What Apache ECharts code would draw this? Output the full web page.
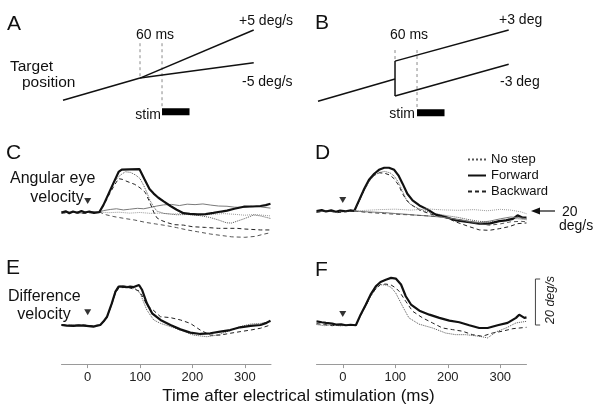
<!DOCTYPE html>
<html><head><meta charset="utf-8">
<script src="https://cdn.jsdelivr.net/npm/echarts@6/dist/echarts.min.js"></script>
<style>html,body{margin:0;padding:0;background:#fff}#c{width:601px;height:419px}</style>
</head><body><div id="c"></div>
<script>
// ---------- Schematic panels (time in ms, position in deg) ----------
const aPre   = [[-270,-2.1],[-60,0]];
const aPlus  = [[-60,0],[250,4.55]];
const aMinus = [[-60,0],[250,1.45]];
const bPre   = [[-270,-2.1],[-60,0]];
const bStep  = [[-60,1.7],[-60,-1.6]];
const bPlus  = [[-60,1.7],[250,4.65]];
const bMinus = [[-60,-1.6],[250,1.4]];
const aGuide1 = [[-60,3.3],[-60,0]];
const aGuide2 = [[0,3.3],[0,-2.9]];
const bGuide1 = [[-60,2.75],[-60,1.7]];
const bGuide2 = [[0,2.75],[0,-2.9]];
const stimBar = [[0,-3.2],[75,-3.2]];

// ---------- Panel C: angular eye velocity (deg/s), velocity step ----------
const cForwardStim = [[-50,19.8],[-42,20.3],[-35,19.5],[-28,20.2],[-20,19.7],[-12,20.4],[-5,19.8],[3,20.2],[12,19.6],[22,19.9],[30,23],[40,28],[50,33],[59,37.4],[65,38.4],[80,38.5],[99,38.6],[108,34.5],[118,30],[126,28],[135,26.2],[145,24.6],[158,22.6],[170,21],[183,19.5],[195,19.2],[210,19.0],[225,19.1],[240,19.6],[255,20.2],[266,20.6],[280,21.4],[298,22.3],[315,22.4],[330,22.6],[340,23],[349,23.6]];
const cForwardNo = [[-50,19.6],[-30,20.1],[-10,19.5],[10,20.2],[22,20],[30,20.6],[43,21.1],[55,21.4],[68,20.9],[80,21.2],[95,21.6],[107,21.4],[120,22],[132,22.6],[145,23.1],[160,23.3],[175,22.8],[190,23.4],[205,23.2],[220,23.5],[235,23.0],[250,22.6],[266,22.5],[280,22.1],[298,22.0],[312,22.5],[330,22.2],[349,21.7]];
const cNoStepStim = [[-50,20.2],[-30,19.7],[-10,20.3],[10,19.6],[22,20],[32,24],[42,29],[52,33.5],[62,36],[72,37.5],[82,37.2],[92,36],[100,34.5],[107,31.5],[113,28.5],[119,25],[126,22.3],[132,20.4],[145,19.4],[158,19.1],[170,18.8],[189,18.9],[202,18.7],[215,18.4],[234,17.6],[250,16.5],[265,15.3],[275,15.2],[285,16],[298,17],[317,18.7],[330,18.3],[349,17.2]];
const cNoStepNo = [[-50,19.7],[-30,20.2],[-10,19.8],[10,20.1],[22,20],[40,19.7],[60,19.9],[80,19.5],[100,19.8],[120,19.4],[140,19.5],[160,19.1],[180,19.3],[200,19.0],[220,18.7],[240,19.0],[260,19.3],[280,19.0],[300,18.6],[320,18.9],[349,18.3]];
const cBackStim = [[-50,19.5],[-30,19.8],[-10,19.4],[10,19.7],[22,20],[32,23.5],[42,28],[52,32],[59,34.5],[66,34.2],[75,33.3],[90,32],[100,30.5],[110,28.5],[118,24.5],[126,20],[132,17.5],[139,16.5],[150,15.5],[165,14.5],[183,14.3],[200,13.6],[225,13.3],[250,12.9],[266,12.9],[285,12.9],[300,12.6],[330,12.2],[349,12.2]];
const cBackNo = [[22,20],[35,18.8],[50,18],[70,17.2],[90,16.5],[110,15.5],[130,14.8],[150,14.1],[170,13.2],[190,12.2],[210,11.4],[235,10.4],[255,9.8],[275,9.2],[300,9.0],[320,9.4],[335,10.3],[349,11]];

// ---------- Panel D: angular eye velocity (deg/s), position step ----------
const dForwardStim = [[-50,20],[-40,20.4],[-32,19.8],[-22,20.3],[-13,19.7],[-5,20.2],[6,19.9],[15,20.3],[22,20],[31,24.6],[41,29.7],[50,33.6],[60,36.2],[69,37.9],[79,38.8],[88,38.8],[98,37.9],[106,35.5],[114,31.9],[123,27.5],[133,24.6],[146,22.4],[162,20.6],[177,18.4],[196,17.4],[216,15.9],[241,15.2],[260,14.5],[279,14.5],[298,15.6],[311,15.9],[324,16.6],[333,18.1],[343,17.1],[350,17.1]];
const dNoStepStim = [[-50,19.6],[-30,20],[-10,19.5],[10,19.8],[22,20],[31,24],[41,29],[50,32.8],[60,35.4],[70,36.8],[80,37.2],[90,36.6],[98,35.2],[106,32.5],[114,28.5],[121,25],[130,22.6],[145,21],[160,19.8],[177,18.8],[200,17.9],[220,17.2],[241,16.2],[260,15.5],[280,15.2],[300,15.6],[320,16.8],[335,16.6],[350,16.2]];
const dBackStim = [[-50,19.4],[-30,20.1],[-10,19.3],[10,19.8],[22,20],[31,24.2],[41,29.2],[50,33],[60,35.6],[70,36.6],[80,36.4],[90,35.6],[98,34],[107,31],[114,27.5],[122,24.5],[133,22.4],[146,20.4],[162,19.1],[180,17.8],[200,16.8],[216,15.2],[241,13.2],[260,11.8],[279,11.6],[298,12.3],[317,13.2],[333,14.5],[350,14.8]];
const dForwardNo = [[22,20],[40,19.7],[60,19.5],[80,19.3],[100,18.9],[120,18.6],[140,18.2],[160,17.9],[180,17.5],[200,17.0],[225,16.2],[245,15.3],[260,15.0],[280,15.6],[300,16.6],[320,17.4],[335,17.1],[350,16.6]];
const dNoStepNo = [[22,20],[45,20.3],[70,20.6],[100,20.8],[130,20.4],[160,20.9],[190,20.5],[220,20.3],[250,20.6],[275,20.1],[300,20.7],[320,20.4],[340,19.6],[350,18.8]];
const dBackNo = [[22,20],[45,19.4],[70,19.0],[100,18.6],[130,18.3],[160,17.9],[190,17.5],[215,16.5],[240,15.3],[260,14.5],[280,13.8],[300,14.4],[320,15.3],[340,15.5],[350,15.3]];

// ---------- Panels E, F: difference velocity (deg/s) ----------
const eForward = [[-50,0],[-40,-0.3],[-27,-0.4],[-15,-0.2],[-2,-0.4],[11,-0.7],[18,-0.3],[24,0],[30,1.5],[37,3.6],[46,9.4],[53,14.5],[59,16.7],[68,16.7],[75,16.4],[81,16.7],[88,16.5],[91,16.9],[98,17.4],[104,15.2],[113,9.4],[123,5.1],[139,2.2],[158,0],[177,-1.9],[196,-3.3],[215,-3.9],[234,-3.6],[253,-2.9],[272,-2.2],[291,-1.0],[311,-0.4],[330,0],[340,0.8],[349,1.9]];
const eBackward = [[-50,0.2],[-30,-0.2],[-10,0.1],[10,-0.4],[24,0],[30,1.2],[37,3.4],[46,9],[53,14],[60,16.2],[70,16.3],[80,16.1],[90,15.5],[98,14.8],[106,12],[113,8.5],[125,6.5],[139,3.6],[158,3.2],[177,2.2],[196,0.7],[215,-2.2],[234,-4.4],[253,-4.4],[272,-3.6],[291,-2.9],[311,-2.2],[330,-1.4],[349,0]];
const eNoStep = [[-50,-0.2],[-30,0.2],[-10,-0.3],[10,-0.6],[24,-0.2],[30,1.3],[37,3.2],[46,9],[53,14.8],[60,17],[70,17.2],[80,16.6],[90,16],[100,13.8],[113,6.5],[126,2.2],[139,0.7],[158,-0.7],[177,-2.2],[202,-4.4],[228,-5.1],[247,-4.4],[266,-2.9],[291,-0.7],[311,0.4],[330,0.7],[349,1.4]];
const fForward = [[-50,1.6],[-40,1.2],[-32,0.9],[-20,0.6],[-13,0.2],[-3,0.3],[6,-0.1],[15,0.1],[25,-0.1],[34,4.5],[44,8.9],[53,13.2],[63,16.8],[72,18.7],[82,19.7],[92,20.5],[101,20.2],[111,17.6],[120,12.5],[130,8.9],[146,6.2],[165,4.5],[184,3.1],[203,1.9],[222,1.2],[241,-0.1],[260,-1.3],[276,-1.3],[295,-0.1],[314,0.9],[330,3.1],[336,4.5],[346,3.1],[350,3.3]];
const fBackward = [[-50,0.6],[-35,0.2],[-20,-0.3],[-5,0.2],[10,-0.2],[25,0],[34,4.2],[44,8.5],[53,12.6],[63,15.8],[72,17.6],[82,17.8],[92,17.4],[101,16.1],[108,14.5],[120,10.3],[133,6],[152,3.1],[171,0.9],[190,-1.3],[209,-2],[228,-2.7],[247,-4.2],[266,-4.9],[285,-3.5],[304,-2.7],[324,-1.6],[350,-1.0]];
const fNoStep = [[-50,0.2],[-35,-0.3],[-20,0.1],[-5,-0.4],[10,-0.1],[25,-0.2],[34,4],[44,8.2],[53,12.4],[63,15.8],[72,17.5],[82,17.4],[92,16.4],[101,13.9],[114,8.1],[126,3.1],[145,0.4],[171,-1.3],[196,-3.5],[215,-4.2],[234,-4.2],[260,-4.9],[276,-5.6],[292,-3.0],[311,-1.3],[330,0.9],[350,1.6]];

// stimulation-onset markers, scale bar (ms, deg/s), ticks, legend
const markC = [[0,24.8]], markD = [[0,24.8]], markE = [[0,5.5]], markF = [[0,4.8]];
const scaleBar = [[376,0],[367,0],[367,20],[376,20]];
const tickValues = [0,100,200,300];
const legendNames = ['No step','Forward','Backward'];

const FONT = "'Liberation Sans', Arial, Helvetica, sans-serif";
const chart = echarts.init(document.getElementById('c'), null, {renderer:'canvas'});

const grids = [
  {left:63, top:20, width:190.7, height:100.3},
  {left:318, top:21, width:190.7, height:100.3},
  {left:61.5, top:154.5, width:209.5, height:103.5},
  {left:316.5, top:153.5, width:210, height:103.5},
  {left:61.5, top:256, width:209.5, height:108.1},
  {left:316.5, top:256, width:210, height:108.1}
];
const hiddenX = (min,max,gi)=>({type:'value',gridIndex:gi,min,max,show:false});
const hiddenY = (min,max,gi)=>({type:'value',gridIndex:gi,min,max,show:false});
const timeAxis = gi => ({type:'value',gridIndex:gi,min:-50,max:350,
  axisLine:{show:true,onZero:false,lineStyle:{color:'#9a9a9a',width:1}},
  axisTick:{show:true,length:4,customValues:tickValues,lineStyle:{color:'#9a9a9a'}},
  axisLabel:{show:true,customValues:tickValues,fontSize:13,color:'#222',fontFamily:FONT,margin:7},
  splitLine:{show:false}});

const xAxes = [hiddenX(-270,250,0), hiddenX(-270,250,1), hiddenX(-50,350,2), hiddenX(-50,350,3), timeAxis(4), timeAxis(5)];
const yAxes = [hiddenY(-4,5.5,0), hiddenY(-4,5.5,1), hiddenY(0,45,2), hiddenY(0,45,3), hiddenY(-17,30,4), hiddenY(-17,30,5)];

const ST = {
  thick:{color:'#111',width:2.2,type:'solid'},
  thin:{color:'#7a7a7a',width:1,type:'solid'},
  dot:{color:'#555',width:1,type:'dotted'},
  dotLight:{color:'#999',width:1,type:'dotted'},
  dash:{color:'#222',width:1,type:[4,3]},
  dashLight:{color:'#555',width:1,type:[4,3]},
  schem:{color:'#111',width:1.5,type:'solid'},
  guide:{color:'#8a8a8a',width:1,type:[3,3]},
  bar:{color:'#000',width:7,type:'solid'}
};
let sid = 0;
function ln(data, gi, style, name){
  return {type:'line', name: name || ('s'+(sid++)), xAxisIndex:gi, yAxisIndex:gi, data,
    symbol:'none', showSymbol:false, silent:true, animation:false,
    lineStyle:Object.assign({},style), itemStyle:{color:style.color}};
}
function tri(data, gi){
  return {type:'scatter', xAxisIndex:gi, yAxisIndex:gi, data, symbol:'triangle', symbolRotate:180,
    symbolSize:[7,6], itemStyle:{color:'#000'}, silent:true, animation:false};
}

const series = [
  ln(dNoStepStim,3,ST.dot,'No step'),
  ln(dForwardStim,3,ST.thick,'Forward'),
  ln(dBackStim,3,ST.dash,'Backward'),
  ln(dForwardNo,3,ST.thin), ln(dNoStepNo,3,ST.dotLight), ln(dBackNo,3,ST.dashLight),
  ln(aGuide1,0,ST.guide), ln(aGuide2,0,ST.guide),
  ln(aPre,0,ST.schem), ln(aPlus,0,ST.schem), ln(aMinus,0,ST.schem), ln(stimBar,0,ST.bar),
  ln(bGuide1,1,ST.guide), ln(bGuide2,1,ST.guide),
  ln(bPre,1,ST.schem), ln(bStep,1,ST.schem), ln(bPlus,1,ST.schem), ln(bMinus,1,ST.schem), ln(stimBar,1,ST.bar),
  ln(cForwardNo,2,ST.thin), ln(cNoStepNo,2,ST.dotLight), ln(cBackNo,2,ST.dashLight),
  ln(cNoStepStim,2,ST.dot), ln(cBackStim,2,ST.dash), ln(cForwardStim,2,ST.thick),
  ln(eNoStep,4,ST.dot), ln(eBackward,4,ST.dash), ln(eForward,4,ST.thick),
  ln(fNoStep,5,ST.dot), ln(fBackward,5,ST.dash), ln(fForward,5,ST.thick),
  tri(markC,2), tri(markD,3), tri(markE,4), tri(markF,5)
];

function txt(x,y,text,size,align,extra){
  const st = Object.assign({text, x:0, y:0, fontSize:size, fontFamily:FONT, fill:'#111',
    textAlign:align||'left', align:align||'left', textVerticalAlign:'middle', verticalAlign:'middle'}, extra||{});
  return {type:'text', x, y, style:st, silent:true};
}
const graphic = [
  txt(7,24,'A',21), txt(315,23,'B',21), txt(6,153,'C',21), txt(315,153,'D',21), txt(6,268,'E',21), txt(315,270,'F',21),
  txt(10,67,'Target',15.5), txt(22,83,'position',15.5),
  txt(155,35,'60 ms',14,'center'), txt(161,115,'stim',14,'right'),
  txt(239,21,'+5 deg/s',14), txt(242,82,'-5 deg/s',14),
  txt(409,35,'60 ms',14,'center'), txt(415,114,'stim',14,'right'),
  txt(499,20,'+3 deg',14), txt(500,82,'-3 deg',14),
  txt(10,179,'Angular eye',16), txt(57,198,'velocity',16,'center'),
  txt(8,297,'Difference',16), txt(44,315,'velocity',16,'center'),
  txt(562,212,'20',14), txt(559,226,'deg/s',14),
  {type:'line', shape:{x1:538,y1:211,x2:555,y2:211}, style:{stroke:'#111',lineWidth:1.2}, silent:true},
  {type:'polygon', shape:{points:[[531,211],[540,207.5],[540,214.5]]}, style:{fill:'#111'}, silent:true},
  {type:'text', x:551, y:300, rotation:Math.PI/2, silent:true,
    style:{text:'20 deg/s', fontSize:12.5, fontStyle:'italic', fontFamily:FONT, fill:'#222',
      textAlign:'center', align:'center', textVerticalAlign:'middle', verticalAlign:'middle'}},
  txt(298.5,396,'Time after electrical stimulation (ms)',17,'center')
];

chart.setOption({
  animation:false,
  backgroundColor:'#fff',
  grid:grids, xAxis:xAxes, yAxis:yAxes, series,
  legend:{data:legendNames, orient:'vertical', left:462, top:148, itemWidth:18, itemHeight:8, itemGap:3,
    selectedMode:false, itemStyle:{opacity:0}, textStyle:{fontSize:13, color:'#111', fontFamily:FONT, lineHeight:12}},
  graphic
});
// 20 deg/s scale bracket, placed through panel F's own scales
const pts = scaleBar.map(p => chart.convertToPixel({gridIndex:5}, p));
graphic.push({type:'polyline', shape:{points:pts}, style:{stroke:'#444', lineWidth:1, fill:null}, silent:true});
chart.setOption({graphic});
</script></body></html>
